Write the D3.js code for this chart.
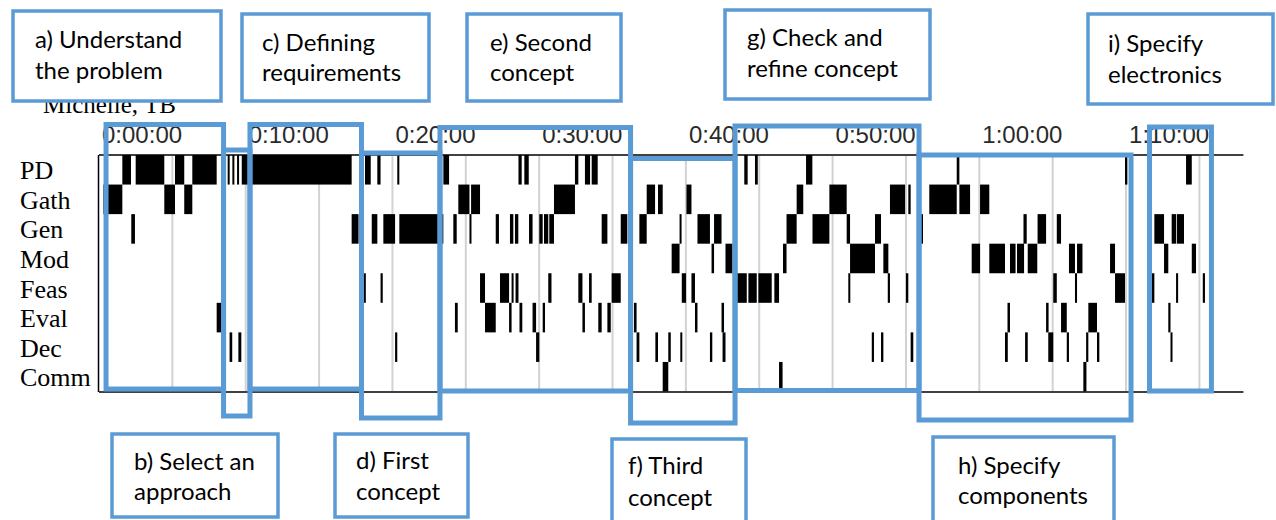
<!DOCTYPE html>
<html>
<head>
<meta charset="utf-8">
<script src="https://cdn.jsdelivr.net/npm/d3@7"></script>
<style>
  body { margin: 0; background: #fff; }
  svg { display: block; }
</style>
</head>
<body>
<svg id="chart" width="1276" height="520"></svg>
<script>
// activity codes, top to bottom
const categories = ["PD", "Gath", "Gen", "Mod", "Feas", "Eval", "Dec", "Comm"];

// coded episodes per activity, [start, end] in minutes
const pdSegs = [[1.59,2.18],[2.50,4.45],[5.18,5.81],[6.36,8.02],[8.77,8.90],[9.09,9.22],[9.41,9.54],[9.73,17.22],
  [18.13,18.52],[18.97,19.19],[20.33,20.47],[23.47,23.86],[28.59,28.81],[28.99,29.29],[32.44,32.67],[33.12,33.47],
  [33.58,33.99],[43.98,44.21],[44.71,44.90],[48.19,48.62],[58.46,58.64],[69.93,70.09],[74.09,74.48]];
const gathSegs = [[0.30,1.59],[4.45,5.18],[5.81,6.36],[24.49,25.25],[25.36,25.97],[31.01,32.44],[37.33,37.90],
  [38.10,38.42],[40.04,40.38],[47.55,48.00],[49.78,50.96],[53.91,54.94],[55.16,55.32],[56.59,58.46],[58.64,59.37],
  [60.05,60.68]];
const genSegs = [[2.20,2.45],[17.22,17.69],[18.59,18.97],[19.38,20.18],[20.47,23.47],[24.15,24.38],[25.25,25.38],
  [27.04,27.26],[28.01,28.24],[28.35,28.58],[29.31,29.55],[30.01,30.24],[30.33,30.62],[30.69,31.01],[34.26,34.65],
  [35.56,36.01],[36.83,37.33],[39.57,39.66],[40.79,41.64],[41.92,42.43],[46.86,47.55],[48.63,49.78],[50.96,51.19],
  [52.89,53.30],[56.01,56.16],[63.01,63.23],[63.97,64.55],[65.28,65.57],[71.93,72.59],[73.11,73.41],[73.46,73.95]];
const modSegs = [[39.03,39.57],[41.75,41.92],[42.70,43.18],[46.62,46.86],[51.19,52.89],[53.46,53.80],[59.48,60.05],
  [60.68,61.75],[62.09,62.47],[62.57,63.05],[63.30,63.95],[66.11,66.52],[66.66,67.03],[68.91,69.25],[72.59,72.88],
  [74.48,74.77]];
const feasSegs = [[18.05,18.18],[19.19,19.34],[25.97,26.31],[27.33,27.95],[28.12,28.22],[28.39,28.59],[30.62,30.84],
  [32.67,32.95],[33.40,33.58],[34.94,35.56],[39.72,40.01],[40.38,40.62],[43.45,44.15],[44.26,44.83],[44.94,45.85],
  [46.03,46.35],[51.07,51.19],[53.76,53.91],[55.00,55.16],[65.04,65.28],[66.52,66.66],[69.25,69.93],[71.75,71.93],
  [73.41,73.55],[75.23,75.38]];
const evalSegs = [[8.02,8.45],[24.26,24.45],[26.31,27.04],[27.95,28.12],[28.66,28.85],[29.55,29.79],[30.24,30.40],
  [32.95,33.12],[34.03,34.26],[34.65,34.88],[36.46,36.64],[40.62,40.79],[42.43,42.60],[61.92,62.09],[64.55,64.72],
  [65.57,65.96],[67.43,68.02],[72.88,73.03]];
const decSegs = [[8.90,9.08],[9.50,9.70],[20.18,20.33],[29.79,30.01],[36.64,36.83],[37.92,38.10],[38.80,38.97],
  [39.62,39.72],[41.64,41.80],[42.50,42.70],[52.67,52.82],[53.30,53.46],[55.32,55.50],[61.75,61.94],[63.12,63.30],
  [64.70,65.04],[65.96,66.11],[67.28,67.43],[68.02,68.18],[73.03,73.14]];
const commSegs = [[38.42,38.80],[46.35,46.59],[67.09,67.30]];

const segsByCategory = [pdSegs, gathSegs, genSegs, modSegs, feasSegs, evalSegs, decSegs, commSegs];

const gridMinutes = [5,10,15,20,25,30,35,40,45,50,55,60,65,70,75];
const tickMinutes = [0,10,20,30,40,50,60,70];
const tickLabels = ["0:00:00","0:10:00","0:20:00","0:30:00","0:40:00","0:50:00","1:00:00","1:10:00"];

const chartTitle = "Michelle, TB";

// design phases laid over the timeline
const phaseLines = [["a) Understand","the problem"],["b) Select an","approach"],["c) Defining","requirements"],
  ["d) First","concept"],["e) Second","concept"],["f) Third","concept"],["g) Check and","refine concept"],
  ["h) Specify","components"],["i) Specify","electronics"]];
const phaseStart = [0.48, 8.49, 10.29, 17.89, 23.24, 36.23, 43.35, 55.89, 71.60];
const phaseEnd   = [8.49, 10.29, 17.89, 23.24, 36.23, 43.35, 55.89, 70.34, 75.82];

// layout only: vertical span of each phase frame, and callout boxes [x, y, w, h]
const frameY = [[124.5,389],[150,416],[124.5,389],[153,418],[127.5,391],[158.5,423],[126,390.5],[155,420],[127,391]];
const callout = [[13,11,208,90],[112,434,166,83],[242,14,187,87],[335,434,133,83],[467,14,154,87],
  [612,439,134,85],[725,10,205,89],[933,437,181,85],[1088,14,185,90]];
const calloutText = [[22,37,68],[22,36,66],[20,37,67],[21,35,66],[23,37,67],[16,35,67],[22,36,67],[25,37,67],[20,38,69]];

const svg = d3.select("#chart");
const blue = "#5B9BD5";

const x = d3.scaleLinear().domain([0, 78]).range([99, 99 + 78 * 73.36 / 5]);
const y = d3.scaleBand().domain(categories).range([155, 391.5]).padding(0);

// title (partly hidden behind callout a)
svg.append("text")
  .attr("x", 43).attr("y", 113)
  .attr("font-family", "'Liberation Serif', 'Times New Roman', serif")
  .attr("font-size", 25)
  .text(chartTitle);

// grid
svg.append("g").selectAll("line")
  .data(gridMinutes)
  .join("line")
  .attr("x1", d => x(d)).attr("x2", d => x(d))
  .attr("y1", 156).attr("y2", 391)
  .attr("stroke", "#d2d2d2")
  .attr("stroke-width", 2);

// episodes
const rows = svg.append("g").selectAll("g")
  .data(categories)
  .join("g");

rows.selectAll("rect")
  .data((c, i) => segsByCategory[i].map(s => ({ cat: c, s: s[0], e: s[1] })))
  .join("rect")
  .attr("x", d => x(d.s))
  .attr("width", d => Math.max(2, x(d.e) - x(d.s)))
  .attr("y", d => y(d.cat))
  .attr("height", y.bandwidth())
  .attr("fill", "#000");

// frame lines
const [x0, x1] = x.range();
svg.append("line").attr("x1", x0).attr("x2", x1).attr("y1", 155).attr("y2", 155)
  .attr("stroke", "#000").attr("stroke-width", 1.5);
svg.append("line").attr("x1", x0).attr("x2", x1).attr("y1", 392).attr("y2", 392)
  .attr("stroke", "#000").attr("stroke-width", 1.5);
svg.append("line").attr("x1", x0 - 0.5).attr("x2", x0 - 0.5).attr("y1", 155).attr("y2", 392)
  .attr("stroke", "#000").attr("stroke-width", 1.5);

// row labels
svg.append("g").selectAll("text")
  .data(categories)
  .join("text")
  .attr("x", 20)
  .attr("y", d => y(d) + y.bandwidth() / 2 + 9.5)
  .attr("font-family", "'Liberation Serif', 'Times New Roman', serif")
  .attr("font-size", 26)
  .attr("fill", "#000")
  .text(d => d);

// time labels
svg.append("g").selectAll("text")
  .data(tickMinutes)
  .join("text")
  .attr("x", d => x(d) + 3)
  .attr("y", 143)
  .attr("font-family", "'Liberation Sans', Arial, sans-serif")
  .attr("font-size", 24)
  .attr("fill", "#2a2a2a")
  .text((d, i) => tickLabels[i]);

// phase frames
svg.append("g").selectAll("rect")
  .data(phaseStart)
  .join("rect")
  .attr("x", (d, i) => x(d))
  .attr("width", (d, i) => x(phaseEnd[i]) - x(d))
  .attr("y", (d, i) => frameY[i][0])
  .attr("height", (d, i) => frameY[i][1] - frameY[i][0])
  .attr("fill", "none")
  .attr("stroke", blue)
  .attr("stroke-width", 5);

// callouts
const boxes = svg.append("g").selectAll("g")
  .data(phaseLines)
  .join("g")
  .attr("transform", (d, i) => `translate(${callout[i][0]},${callout[i][1]})`);

boxes.append("rect")
  .attr("width", (d, i) => callout[i][2])
  .attr("height", (d, i) => callout[i][3])
  .attr("fill", "#fff")
  .attr("stroke", blue)
  .attr("stroke-width", 3.5);

boxes.each(function(lines, i) {
  const t = calloutText[i];
  d3.select(this).selectAll("text")
    .data(lines)
    .join("text")
    .attr("x", t[0])
    .attr("y", (d, j) => t[1 + j])
    .attr("font-family", "Lato, 'Open Sans', sans-serif")
    .attr("font-size", 24)
    .attr("fill", "#000")
    .text(d => d);
});
</script>
</body>
</html>
